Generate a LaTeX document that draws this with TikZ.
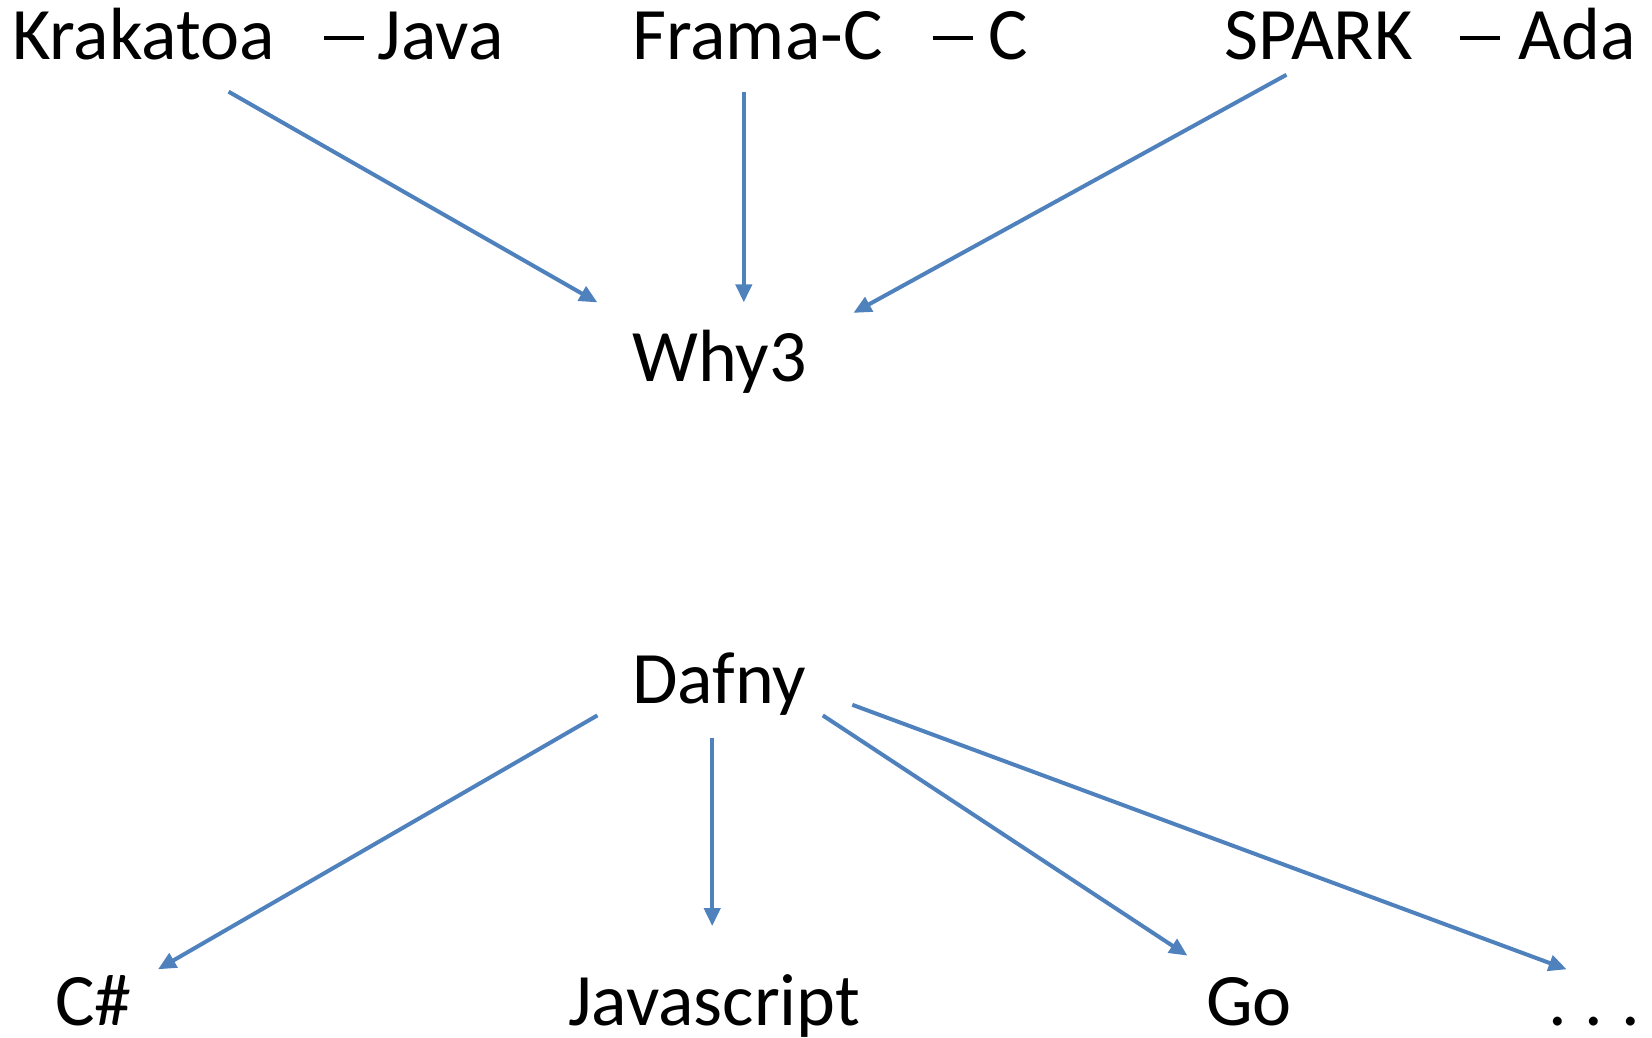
\documentclass[tikz,border=0pt]{standalone}
\usepackage{fontspec}
\setmainfont{Carlito}
\usetikzlibrary{arrows.meta}
\definecolor{officeblue}{HTML}{4F81BD}
\newcommand{\longdash}{\rule[20.2pt]{40pt}{3.8pt}}
\tikzset{
  lbl/.style={anchor=base west, inner sep=0pt, font=\fontsize{74}{88}\selectfont, text=black},
  conn/.style={draw=officeblue, line width=4pt, -{Triangle[length=18pt,width=16pt]}, fill=officeblue}
}
\begin{document}
\begin{tikzpicture}[x=1pt,y=-1pt]
\useasboundingbox (0,0) rectangle (1652,1038);
% nodes
\node[lbl] (krak) at (12,60) {Krakatoa\hspace{49pt}\longdash\hspace{14pt}Java};
\node[lbl] (frama) at (632,60) {Frama-C\hspace{50pt}\longdash\hspace{16pt}C};
\node[lbl] (spark) at (1224,60) {SPARK\hspace{48pt}\longdash\hspace{18pt}Ada};
\node[lbl] (why) at (632,381) {Why3};
\node[lbl] (dafny) at (632,703) {Dafny};
\node[lbl] (cs) at (55,1025) {C\#};
\node[lbl] (js) at (568,1025) {Javascript};
\node[lbl] (go) at (1206,1025) {Go};
\node[lbl] (dots) at (1548,1025) {.\hspace{18pt}.\hspace{18pt}.};
% connector end points
\coordinate (krakout) at (228.6,91.7);
\coordinate (whyinA) at (597.4,302.4);
\coordinate (framaout) at (743.8,91.7);
\coordinate (whyinB) at (743.8,302.4);
\coordinate (sparkout) at (1286.4,74.8);
\coordinate (whyinC) at (853.4,312.9);
\coordinate (dafoutA) at (597.4,715.4);
\coordinate (csin) at (158,969.3);
\coordinate (dafoutB) at (712.2,737.5);
\coordinate (jsin) at (712.2,926.1);
\coordinate (dafoutC) at (822.8,715.4);
\coordinate (goin) at (1187.4,955.6);
\coordinate (dafoutD) at (852.3,704.8);
\coordinate (dotsin) at (1566.6,969.3);
% connectors
\draw[conn] (krakout) -- (whyinA);
\draw[conn] (framaout) -- (whyinB);
\draw[conn] (sparkout) -- (whyinC);
\draw[conn] (dafoutA) -- (csin);
\draw[conn] (dafoutB) -- (jsin);
\draw[conn] (dafoutC) -- (goin);
\draw[conn] (dafoutD) -- (dotsin);
\end{tikzpicture}
\end{document}
